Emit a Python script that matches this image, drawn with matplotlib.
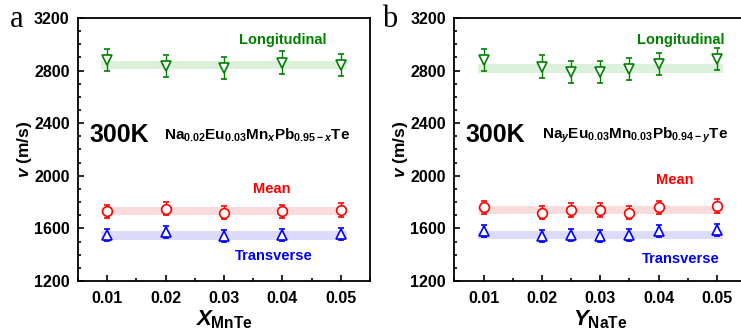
import numpy as np
import matplotlib
matplotlib.use('Agg')
import matplotlib.pyplot as plt
from matplotlib.ticker import MultipleLocator

plt.rcParams['font.family'] = ['Liberation Sans', 'DejaVu Sans']
plt.rcParams['font.weight'] = 'bold'
plt.rcParams['mathtext.fontset'] = 'custom'
plt.rcParams['mathtext.rm'] = 'Liberation Sans:bold'
plt.rcParams['mathtext.bf'] = 'Liberation Sans:bold'
plt.rcParams['mathtext.it'] = 'Liberation Sans:bold:italic'

# panel a: Na0.02Eu0.03MnxPb0.95-xTe
x_a = [0.01, 0.02, 0.03, 0.04, 0.05]
long_a = [2880, 2835, 2820, 2860, 2840]
mean_a = [1730, 1750, 1720, 1730, 1740]
trans_a = [1550, 1570, 1540, 1550, 1560]
band_a = [2842, 1732, 1546]

# panel b: NayEu0.03Mn0.03Pb0.94-yTe
x_b = [0.01, 0.02, 0.025, 0.03, 0.035, 0.04, 0.05]
long_b = [2880, 2830, 2790, 2790, 2810, 2850, 2890]
mean_b = [1760, 1720, 1740, 1740, 1720, 1760, 1770]
trans_b = [1580, 1540, 1550, 1540, 1550, 1580, 1590]
band_b = [2816, 1738, 1551]

err_long, err_mean, err_trans = 85, 50, 45
band_half = 32

colors = ['green', 'red', 'blue']
markers = ['v', 'o', '^']
band_colors = ['#dcf0dc', '#fadcdc', '#dcdcfa']

fig = plt.figure(figsize=(7.41, 3.36), dpi=100)
ax1 = fig.add_axes([0.1053, 0.1637, 0.394, 0.783])
ax2 = fig.add_axes([0.6131, 0.1637, 0.394, 0.783])


def draw(ax, xs, series, bands, errs):
    for ys, b, c, m, bc, e in zip(series, bands, colors, markers, band_colors, errs):
        ax.fill_between([0.009, 0.051], b - band_half, b + band_half,
                        color=bc, lw=0, zorder=1)
        ax.errorbar(xs, ys, yerr=e, fmt=m, ms=7, mfc='white', mec=c, mew=1.2,
                    ecolor=c, elinewidth=1, capsize=2.5, capthick=1, zorder=3)
    ax.set_xlim(0.005, 0.055)
    ax.set_ylim(1200, 3200)
    ax.xaxis.set_major_locator(MultipleLocator(0.01))
    ax.xaxis.set_minor_locator(MultipleLocator(0.005))
    ax.yaxis.set_major_locator(MultipleLocator(400))
    ax.yaxis.set_minor_locator(MultipleLocator(100))
    ax.tick_params(which='both', direction='in', width=1.2, labelsize=11.5)
    ax.tick_params(which='major', length=4.5)
    ax.tick_params(which='minor', length=2.5)
    ax.tick_params(axis='y', pad=6)
    ax.tick_params(axis='x', pad=7)
    ax.set_xticks(ax.get_xticks())
    ax.set_xticklabels(['%.2f' % t for t in ax.get_xticks()], fontweight='bold')
    for lab in ax.get_yticklabels():
        lab.set_fontweight('bold')
    for sp in ax.spines.values():
        sp.set_linewidth(1.3)
    ax.set_ylabel(r'$\mathit{v}$ (m/s)', fontsize=12.5, fontweight='bold', labelpad=0)


draw(ax1, x_a, [long_a, mean_a, trans_a], band_a, [err_long, err_mean, err_trans])
draw(ax2, x_b, [long_b, mean_b, trans_b], band_b, [err_long, err_mean, err_trans])
ax1.set_xlim(0.005, 0.055)
ax2.set_xlim(0.005, 0.055)

ax1.set_xlabel(r'$X_{\mathrm{MnTe}}$', fontsize=16, labelpad=2)
ax2.set_xlabel(r'$Y_{\mathrm{NaTe}}$', fontsize=16, labelpad=2)

# annotations
ax1.text(0.040, 3030, 'Longitudinal', color='green', fontsize=10.5, ha='center', va='center')
ax1.text(0.0382, 1900, 'Mean', color='red', fontsize=10.5, ha='center', va='center')
ax1.text(0.0385, 1390, 'Transverse', color='blue', fontsize=10.5, ha='center', va='center')
ax1.text(0.0120, 2310, '300K', fontsize=18, ha='center', va='center')
ax1.text(0.0198, 2310, r'$\mathrm{Na}_{0.02}\mathrm{Eu}_{0.03}\mathrm{Mn}_{x}\mathrm{Pb}_{0.95-x}\mathrm{Te}$',
         fontsize=11, ha='left', va='center')

ax2.text(0.0438, 3030, 'Longitudinal', color='green', fontsize=10.5, ha='center', va='center')
ax2.text(0.0427, 1970, 'Mean', color='red', fontsize=10.5, ha='center', va='center')
ax2.text(0.0437, 1367, 'Transverse', color='blue', fontsize=10.5, ha='center', va='center')
ax2.text(0.0121, 2310, '300K', fontsize=18, ha='center', va='center')
ax2.text(0.0201, 2310, r'$\mathrm{Na}_{y}\mathrm{Eu}_{0.03}\mathrm{Mn}_{0.03}\mathrm{Pb}_{0.94-y}\mathrm{Te}$',
         fontsize=11, ha='left', va='center')

fig.text(0.0135, 0.92, 'a', family='Liberation Serif', fontweight='normal', fontsize=22, va='baseline')
fig.text(0.516, 0.92, 'b', family='Liberation Serif', fontweight='normal', fontsize=22, va='baseline')

fig.savefig('out.png', dpi=100)
